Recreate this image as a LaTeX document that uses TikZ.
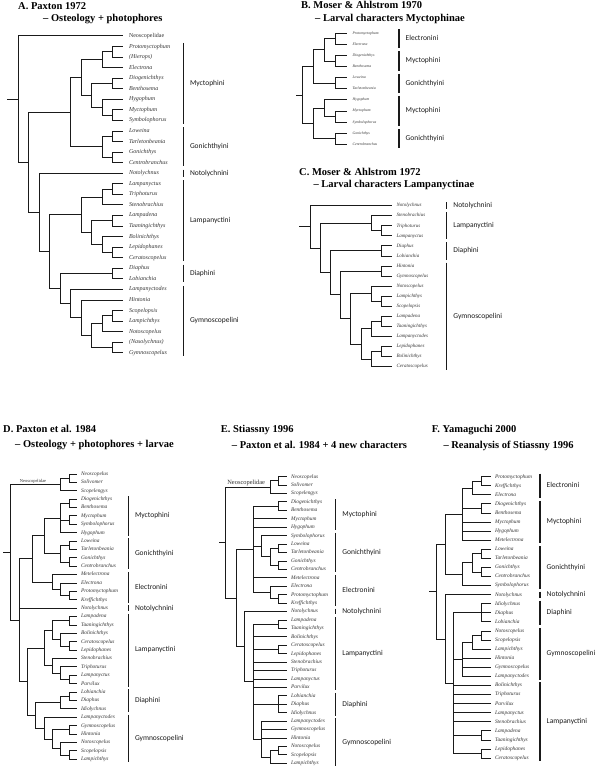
\documentclass[tikz,border=0pt]{standalone}
\usepackage{fontspec}
\setmainfont{Liberation Serif}
\newfontfamily\cladefont{Carlito}
\usetikzlibrary{calc,positioning}
\definecolor{treegray}{HTML}{1A1A1A}
\definecolor{leafgray}{HTML}{333333}
\tikzset{
  branch/.style={treegray, line width=1pt},
  tribebar/.style={treegray, line width=1.1pt},
  leaf/.style={inner sep=0pt, anchor=west, text=leafgray},
  leafA/.style={leaf, outer sep=6pt, font=\fontsize{6}{6}\selectfont\itshape, text height=4.1pt, text depth=1.2pt},
  leafB/.style={leaf, outer sep=6pt, font=\fontsize{3.8}{4}\selectfont\itshape, text height=2.6pt, text depth=0.8pt},
  leafC/.style={leaf, outer sep=5pt, font=\fontsize{5}{5}\selectfont\itshape, text height=3.4pt, text depth=1pt},
  leafD/.style={leaf, outer sep=3.7pt, font=\fontsize{5.4}{5.4}\selectfont\itshape, text height=3.7pt, text depth=1.1pt},
  leafF/.style={leaf, outer sep=4.3pt, font=\fontsize{5.4}{5.4}\selectfont\itshape, text height=3.7pt, text depth=1.1pt},
  tribelabel/.style={inner sep=0pt, text=treegray, font=\cladefont\fontsize{7.5}{8}\selectfont, text height=5.1pt, text depth=1.5pt},
  title/.style={inner sep=0pt, anchor=base west, font=\fontsize{10.5}{12}\selectfont\bfseries},
  neolabel/.style={inner sep=0pt, anchor=base, text=leafgray}
}
% internal node: name, x, children (first..last)
\newcommand{\clade}[3]{%
  \foreach \ch [count=\k] in {#3}{\ifnum\k=1 \xdef\cfirst{\ch}\fi\xdef\clast{\ch}}%
  \path ($(\cfirst)!.5!(\clast)$) coordinate (#1m);
  \path (#2,0 |- #1m) coordinate (#1);
  \draw[branch, line cap=rect] (#1 |- \cfirst) -- (#1 |- \clast);
  \foreach \ch in {#3} \draw[branch] (#1 |- \ch) -- (\ch);}
% tribe bar: name, x, first leaf, last leaf, overhang, label
\newcommand{\tribe}[6]{%
  \path (#2,0 |- #3) ++(0,-#5) coordinate (#1t);
  \path (#2,0 |- #4) ++(0,#5) coordinate (#1b);
  \draw[tribebar] (#1t) -- (#1b);
  \path ($(#1t)!.5!(#1b)$) coordinate (#1m);
  \node[tribelabel, right=6.5pt of #1m] (#1) {#6};}

\begin{document}
\begin{tikzpicture}[x=1pt, y=-1pt]
\useasboundingbox (0,0) rectangle (600,768);

% ---------- A. Paxton 1972
\node[title] (aT1) at (18,9.3) {A. Paxton 1972};
\node[title] (aT2) at (43,21.7) {-- Osteology + photophores};
\node[leafA, font=\fontsize{6}{6}\selectfont] (aneo) at (123,36) {Neoscopelidae};
\foreach \n/\t [count=\i from 1] in {proto/Protomyctophum, hier/{(Hierops)}, elec/Electrona,
  diog/Diogenichthys, benth/Benthosema, hyg/Hygophum, myct/Myctophum, symb/Symbolophorus,
  low/Loweina, tarl/Tarletonbeania, gon/Gonichthys, cen/Centrobranchus, noto/Notolychnus,
  lpc/Lampanyctus, tri/Triphoturus, ste/Stenobrachius, lpd/Lampadena, taa/Taaningichthys,
  bol/Bolinichthys, lep/Lepidophanes, cer/Ceratoscopelus, dia/Diaphus, lob/Lobianchia,
  lpo/Lampanyctodes, hin/Hintonia, sco/Scopelopsis, lpi/Lampichthys, nsc/Notoscopelus,
  nas/{(Nasolychnus)}, gym/Gymnoscopelus}
  \node[leafA] (a\n) at (123, 36+10.56*\i) {\t};
\clade{a1}{112.5}{aproto,ahier}
\clade{a2}{102}{a1,aelec}
\clade{a3}{112.5}{adiog,abenth}
\clade{a4}{112.5}{amyct,asymb}
\clade{a5}{102}{ahyg,a4}
\clade{a6}{91.5}{a3,a5}
\clade{a7}{81}{a2,a6}
\clade{a8}{112.5}{alow,atarl}
\clade{a9}{112.5}{agon,acen}
\clade{a10}{102}{a8,a9}
\clade{a11}{70.5}{a7,a10}
\clade{a12}{112.5}{alpc,atri}
\clade{a13}{102}{a12,aste}
\clade{a14}{112.5}{alpd,ataa}
\clade{a15}{112.5}{alep,acer}
\clade{a16}{102}{abol,a15}
\clade{a17}{91.5}{a14,a16}
\clade{a18}{81}{a13,a17}
\clade{a19}{112.5}{adia,alob}
\clade{a20}{112.5}{asco,alpi}
\clade{a21}{102}{a20,ansc}
\clade{a22}{112.5}{anas,agym}
\clade{a23}{91.5}{a21,a22}
\clade{a24}{81}{ahin,a23}
\clade{a25}{70.5}{alpo,a24}
\clade{a26}{60}{a19,a25}
\clade{a27}{49.5}{a18,a26}
\clade{a28}{39}{anoto,a27}
\clade{a29}{28.5}{a11,a28}
\clade{aR}{18}{aneo,a29}
\path (7,0 |- aR) coordinate (aS);
\draw[branch] (aS) -- (aR);
\tribe{aMy}{183.3}{aproto}{asymb}{3.6}{Myctophini}
\tribe{aGo}{183.3}{alow}{acen}{3.6}{Gonichthyini}
\tribe{aNo}{183.3}{anoto}{anoto}{3.6}{Notolychnini}
\tribe{aLa}{183.3}{alpc}{acer}{3.6}{Lampanyctini}
\tribe{aDi}{183.3}{adia}{alob}{3.6}{Diaphini}
\tribe{aGy}{183.3}{alpo}{agym}{3.6}{Gymnoscopelini}

% ---------- B. Moser & Ahlstrom 1970
\node[title] (bT1) at (301,8.3) {B. Moser \& Ahlstrom 1970};
\node[title] (bT2) at (315,21.7) {-- Larval characters Myctophinae};
\foreach \n/\t [count=\i from 0] in {proto/Protomyctophum, elec/Electrona, diog/Diogenichthys,
  benth/Benthosema, low/Loweina, tarl/Tarletonbeania, hyg/Hygophum, myct/Myctophum,
  symb/Symbolophorus, gon/Gonichthys, cen/Centrobranchus}
  \node[leafB] (b\n) at (346.6, 33.3+11.1*\i) {\t};
\clade{b1}{335.6}{bproto,belec}
\clade{b2}{335.6}{bdiog,bbenth}
\clade{b3}{324.6}{b1,b2}
\clade{b4}{335.6}{blow,btarl}
\clade{b5}{313.6}{b3,b4}
\clade{b6}{335.6}{bmyct,bsymb}
\clade{b7}{324.6}{bhyg,b6}
\clade{b8}{335.6}{bgon,bcen}
\clade{b9}{313.6}{b7,b8}
\clade{bR}{302.7}{b5,b9}
\path (296,0 |- bR) coordinate (bS);
\draw[branch] (bS) -- (bR);
\tribe{bEl}{399}{bproto}{belec}{4}{Electronini}
\tribe{bMy1}{399}{bdiog}{bbenth}{4}{Myctophini}
\tribe{bGo1}{399}{blow}{btarl}{4}{Gonichthyini}
\tribe{bMy2}{399}{bhyg}{bsymb}{4}{Myctophini}
\tribe{bGo2}{399}{bgon}{bcen}{4}{Gonichthyini}

% ---------- C. Moser & Ahlstrom 1972
\node[title] (cT1) at (299,175) {C. Moser \& Ahlstrom 1972};
\node[title] (cT2) at (313.3,187.7) {-- Larval characters Lampanyctinae};
\foreach \n/\t [count=\i from 0] in {noto/Notolychnus, ste/Stenobrachius, tri/Triphoturus,
  lpc/Lampanyctus, dia/Diaphus, lob/Lobianchia, hin/Hintonia, gym/Gymnoscopelus,
  nsc/Notoscopelus, lpi/Lampichthys, sco/Scopelopsis, lpd/Lampadena, taa/Taaningichthys,
  lpo/Lampanyctodes, lep/Lepidophanes, bol/Bolinichthys, cer/Ceratoscopelus}
  \node[leafC] (c\n) at (391.6, 205.7+10.06*\i) {\t};
\clade{c1}{381.4}{ctri,clpc}
\clade{c2}{371.2}{cste,c1}
\clade{c3}{381.4}{cdia,clob}
\clade{c4}{381.4}{chin,cgym}
\clade{c5}{381.4}{clpi,csco}
\clade{c6}{371.2}{cnsc,c5}
\clade{c7}{381.4}{clpd,ctaa}
\clade{c8}{371.2}{c7,clpo}
\clade{c9}{381.4}{clep,cbol}
\clade{c10}{371.2}{c9,ccer}
\clade{c11}{361}{c8,c10}
\clade{c12}{350.8}{c6,c11}
\clade{c13}{340.6}{c4,c12}
\clade{c14}{330.4}{c3,c13}
\clade{c15}{320.2}{c2,c14}
\clade{cR}{310}{cnoto,c15}
\path (299,0 |- cR) coordinate (cS);
\draw[branch] (cS) -- (cR);
\tribe{cNo}{446.7}{cnoto}{cnoto}{3.5}{Notolychnini}
\tribe{cLa}{446.7}{cste}{clpc}{3.5}{Lampanyctini}
\tribe{cDi}{446.7}{cdia}{clob}{3.5}{Diaphini}
\tribe{cGy}{446.7}{chin}{ccer}{3.5}{Gymnoscopelini}

% ---------- D. Paxton et al. 1984
\node[title] (dT1) at (3,432.3) {D. Paxton et al. 1984};
\node[title] (dT2) at (15,447.3) {-- Osteology + photophores + larvae};
\foreach \n/\t [count=\i from 0] in {neo/Neoscopelus, sol/Solivomer, scg/Scopelengys,
  diog/Diogenichthys, benth/Benthosema, myct/Myctophum, symb/Symbolophorus, hyg/Hygophum,
  low/Loweina, tarl/Tarletonbeania, gon/Gonichthys, cen/Centrobranchus, met/Metelectrona,
  elec/Electrona, proto/Protomyctophum, kre/Kreffichthys, noto/Notolychnus, lpd/Lampadena,
  taa/Taaningichthys, bol/Bolinichthys, cer/Ceratoscopelus, lep/Lepidophanes,
  ste/Stenobrachius, tri/Triphoturus, lpc/Lampanyctus, par/Parvilux, lob/Lobianchia,
  dia/Diaphus, idi/Idiolychnus, lpo/Lampanyctodes, gym/Gymnoscopelus, hin/Hintonia,
  nsc/Notoscopelus, sco/Scopelopsis, lpi/Lampichthys}
  \node[leafD] (d\n) at (77.3, 474+8.39*\i) {\t};
\clade{d1}{69}{dneo,dsol}
\clade{dNeo}{60.7}{d1,dscg}
\clade{d2}{69}{ddiog,dbenth}
\clade{d3}{69}{dmyct,dsymb}
\clade{d4}{60.7}{d2,d3,dhyg}
\clade{d5}{69}{dlow,dtarl}
\clade{d6}{69}{dgon,dcen}
\clade{d7}{60.7}{d5,d6}
\clade{d8}{44.1}{d4,d7}
\clade{d9}{69}{dproto,dkre}
\clade{d10}{60.7}{delec,d9}
\clade{d11}{52.4}{dmet,d10}
\clade{d12}{32}{d8,d11}
\clade{d13}{69}{dlpd,dtaa}
\clade{d14}{69}{dcer,dlep}
\clade{d15}{60.7}{dbol,d14}
\clade{d16}{52.4}{d13,d15}
\clade{d17}{69}{dlpc,dpar}
\clade{d18}{60.7}{dtri,d17}
\clade{d19}{52.4}{dste,d18}
\clade{d20}{44.1}{d16,d19}
\clade{d21}{69}{dlob,ddia}
\clade{d22}{60.7}{d21,didi}
\clade{d23}{69}{dgym,dhin}
\clade{d24}{69}{dsco,dlpi}
\clade{d25}{60.7}{dnsc,d24}
\clade{d26}{52.4}{d23,d25}
\clade{d27}{44.1}{dlpo,d26}
\clade{d28}{35.8}{d22,d27}
\clade{d29}{27.5}{d20,d28}
\clade{d30}{19.2}{d12,dnoto,d29}
\clade{dR}{10.9}{dNeo,d30}
\path (3,0 |- dR) coordinate (dS);
\draw[branch] (dS) -- (dR);
\node[neolabel, font=\fontsize{4.5}{5}\selectfont] (dNeoL) at (33,482) {Neoscopelidae};
\tribe{dMy}{128.3}{ddiog}{dhyg}{2.8}{Myctophini}
\tribe{dGo}{128.3}{dlow}{dcen}{2.8}{Gonichthyini}
\tribe{dEl}{128.3}{dmet}{dkre}{2.8}{Electronini}
\tribe{dNo}{128.3}{dnoto}{dnoto}{2.8}{Notolychnini}
\tribe{dLa}{128.3}{dlpd}{dpar}{2.8}{Lampanyctini}
\tribe{dDi}{128.3}{dlob}{didi}{2.8}{Diaphini}
\tribe{dGy}{128.3}{dlpo}{dlpi}{2.8}{Gymnoscopelini}

% ---------- E. Stiassny 1996
\node[title] (eT1) at (220.7,432.3) {E. Stiassny 1996};
\node[title] (eT2) at (231.7,448.3) {-- Paxton et al. 1984 + 4 new characters};
\foreach \n/\t [count=\i from 0] in {neo/Neoscopelus, sol/Solivomer, scg/Scopelengys,
  diog/Diogenichthys, benth/Benthosema, myct/Myctophum, hyg/Hygophum, symb/Symbolophorus,
  low/Loweina, tarl/Tarletonbeania, gon/Gonichthys, cen/Centrobranchus, met/Metelectrona,
  elec/Electrona, proto/Protomyctophum, kre/Kreffichthys, noto/Notolychnus, lpd/Lampadena,
  taa/Taaningichthys, bol/Bolinichthys, cer/Ceratoscopelus, lep/Lepidophanes,
  ste/Stenobrachius, tri/Triphoturus, lpc/Lampanyctus, par/Parvilux, lob/Lobianchia,
  dia/Diaphus, idi/Idiolychnus, lpo/Lampanyctodes, gym/Gymnoscopelus, hin/Hintonia,
  nsc/Notoscopelus, sco/Scopelopsis, lpi/Lampichthys}
  \node[leafD] (e\n) at (287.3, 476.7+8.43*\i) {\t};
\clade{e1}{278.5}{eneo,esol}
\clade{eNeo}{270.2}{e1,escg}
\clade{e2}{278.5}{ediog,ebenth}
\clade{e3}{278.5}{elow,etarl}
\clade{e4}{278.5}{egon,ecen}
\clade{e5}{270.2}{e3,e4}
\clade{e6}{261.8}{esymb,e5}
\clade{e7}{278.5}{eproto,ekre}
\clade{e8}{270.2}{eelec,e7}
\clade{e9}{253.2}{e2,emyct,ehyg,e6,emet,e8}
\clade{e10}{278.5}{elpd,etaa}
\clade{e11}{278.5}{ecer,elep}
\clade{e12}{278.5}{elob,edia,eidi}
\clade{e13}{278.5}{ensc,esco}
\clade{e14}{270.2}{e13,elpi}
\clade{e15}{261.8}{elpo,egym,ehin,e14}
\clade{e16}{253.2}{e10,ebol,e11,este,etri,elpc,epar,e12,e15}
\clade{e17}{244.6}{enoto,e16}
\clade{e18}{236}{e9,e17}
\clade{eR}{225.7}{eNeo,e18}
\path (219,0 |- eR) coordinate (eS);
\draw[branch] (eS) -- (eR);
\node[neolabel, font=\fontsize{6.4}{7}\selectfont] (eNeoL) at (246.2,484.3) {Neoscopelidae};
\tribe{eMy}{335.7}{ediog}{ehyg}{2.9}{Myctophini}
\tribe{eGo}{335.7}{esymb}{ecen}{2.9}{Gonichthyini}
\tribe{eEl}{335.7}{emet}{ekre}{2.9}{Electronini}
\tribe{eNo}{335.7}{enoto}{enoto}{2.9}{Notolychnini}
\tribe{eLa}{335.7}{elpd}{epar}{2.9}{Lampanyctini}
\tribe{eDi}{335.7}{elob}{eidi}{2.9}{Diaphini}
\tribe{eGy}{335.7}{elpo}{elpi}{2.9}{Gymnoscopelini}

% ---------- F. Yamaguchi 2000
\node[title] (fT1) at (431.7,432.3) {F. Yamaguchi 2000};
\node[title] (fT2) at (443.3,448.3) {-- Reanalysis of Stiassny 1996};
\foreach \n/\t [count=\i from 0] in {proto/Protomyctophum, kre/Kreffichthys, elec/Electrona,
  diog/Diogenichthys, benth/Benthosema, myct/Myctophum, hyg/Hygophum, met/Metelectrona,
  low/Loweina, tarl/Tarletonbeania, gon/Gonichthys, cen/Centrobranchus, symb/Symbolophorus,
  noto/Notolychnus, idi/Idiolychnus, dia/Diaphus, lob/Lobianchia, nsc/Notoscopelus,
  sco/Scopelopsis, lpi/Lampichthys, hin/Hintonia, gym/Gymnoscopelus, lpo/Lampanyctodes,
  bol/Bolinichthys, tri/Triphoturus, par/Parvilux, lpc/Lampanyctus, ste/Stenobrachius,
  lpd/Lampadena, taa/Taaningichthys, lep/Lepidophanes, cer/Ceratoscopelus}
  \node[leafF] (f\n) at (490.7, 476.7+9.08*\i) {\t};
\clade{f1}{481.5}{fproto,fkre}
\clade{f2}{472}{f1,felec}
\clade{f3}{481.5}{fdiog,fbenth}
\clade{f4}{462.5}{f2,f3,fmyct,fhyg,fmet}
\clade{f5}{481.5}{flow,ftarl}
\clade{f6}{481.5}{fgon,fcen}
\clade{f7}{472}{f5,f6}
\clade{f8}{462.5}{f7,fsymb}
\clade{f9}{445}{f4,f8}
\clade{f10}{481.5}{fidi,fdia,flob}
\clade{f11}{481.5}{fnsc,fsco}
\clade{f12}{472}{f11,flpi}
\clade{f13}{462.5}{f12,fhin,fgym,flpo}
\clade{f14}{481.5}{flpd,ftaa}
\clade{f15}{481.5}{flep,fcer}
\clade{f16}{453.5}{f10,f13,fbol,ftri,fpar,flpc,fste,f14,f15}
\clade{f17}{445}{fnoto,f16}
\clade{fR}{436}{f9,f17}
\path (429,0 |- fR) coordinate (fS);
\draw[branch] (fS) -- (fR);
\tribe{fEl}{540}{fproto}{felec}{3.2}{Electronini}
\tribe{fMy}{540}{fdiog}{fmet}{3.2}{Myctophini}
\tribe{fGo}{540}{flow}{fsymb}{3.2}{Gonichthyini}
\tribe{fNo}{540}{fnoto}{fnoto}{3.2}{Notolychnini}
\tribe{fDi}{540}{fidi}{flob}{3.2}{Diaphini}
\tribe{fGy}{540}{fnsc}{flpo}{3.2}{Gymnoscopelini}
\tribe{fLa}{540}{fbol}{fcer}{3.2}{Lampanyctini}
\end{tikzpicture}
\end{document}
